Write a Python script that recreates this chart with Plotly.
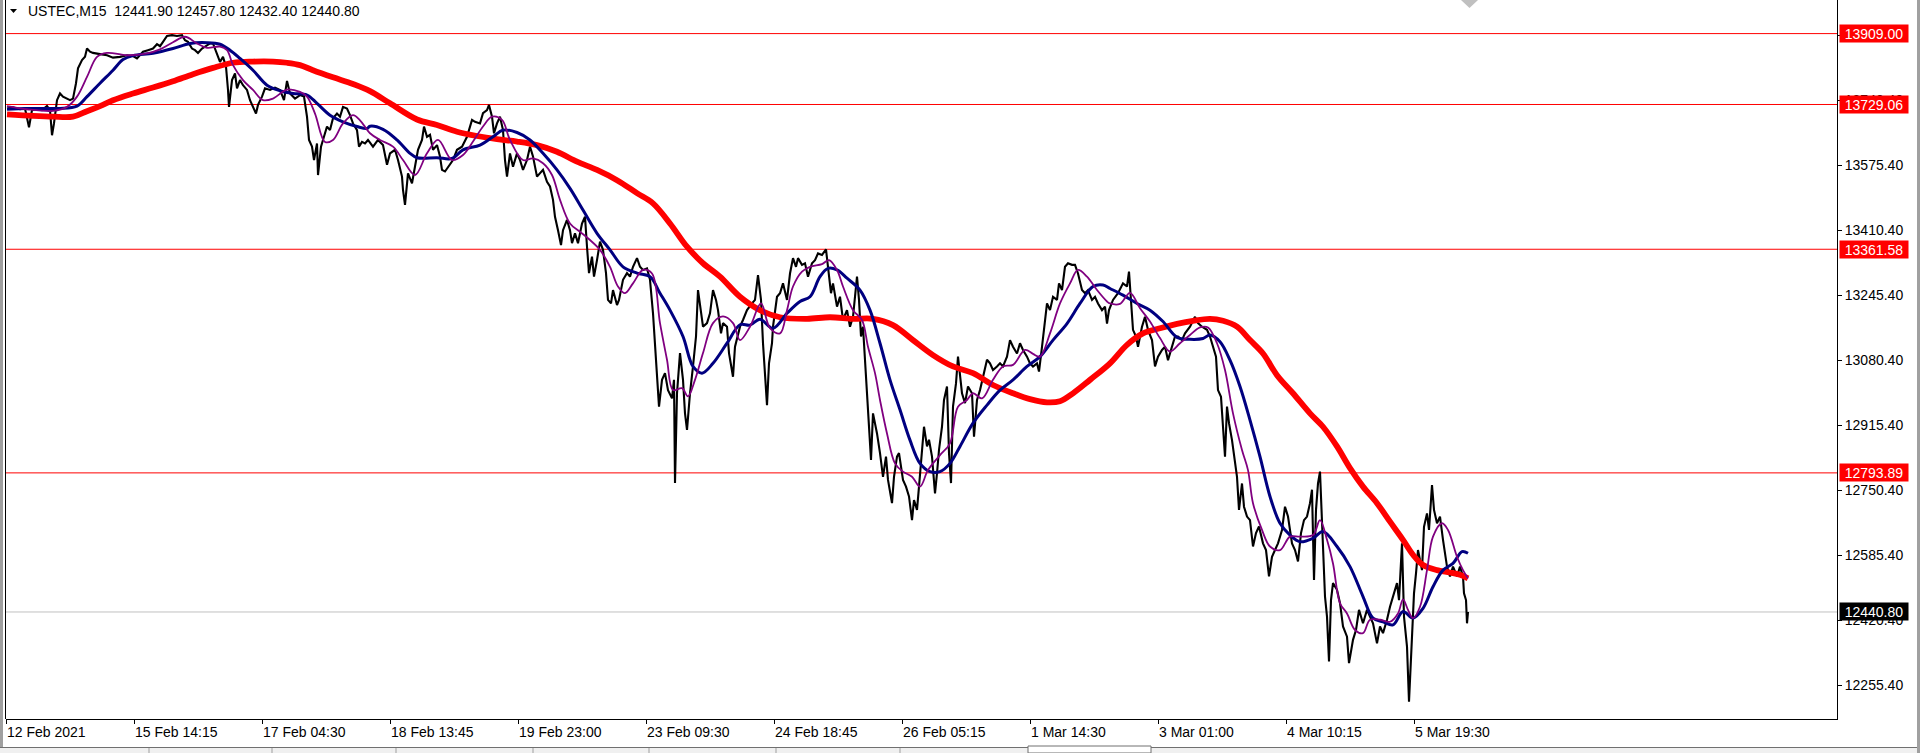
import plotly.graph_objects as go

# ---------------- data ----------------
symbol = "USTEC,M15"
ohlc = [12441.90, 12457.80, 12432.40, 12440.80]

# bar index (15-minute bars, 0 = 12 Feb 2021 tick)
price_x = [1, 7, 14, 19, 23, 26, 31, 36, 41, 44, 46, 48, 51, 54, 57, 61, 64, 67, 70, 72, 76, 79, 81, 84, 87, 94,
           101, 107, 114, 121, 127, 131, 134, 137, 142, 147, 151, 154, 157, 161, 166, 171, 176, 179, 182, 186, 189,
           192, 196, 199, 204, 207, 211, 214, 217, 220, 222, 223, 226, 229, 231, 234, 237, 241, 244, 247, 250, 252,
           256, 259, 264, 269, 274, 278, 281, 284, 289, 294, 298, 301, 303, 306, 308, 311, 312, 315, 317, 321, 324,
           327, 331, 334, 337, 341, 344, 347, 351, 353, 356, 359, 362,
           367, 372, 377, 381, 384, 389, 392, 396, 397, 399, 402, 406, 409, 412, 416, 418, 421, 424, 427, 431, 434,
           436, 439, 444, 447, 451, 456, 461, 466, 469, 474, 477, 481, 483, 486, 488, 491, 494, 497, 499, 501, 504,
           507, 511, 514, 517, 521, 524, 527, 531, 534, 537, 541, 544, 547, 549, 552, 555, 557, 561, 564, 566, 569,
           572, 576, 579, 581, 583, 586, 588, 591, 594, 597, 600, 602, 605, 607, 611, 613, 617, 621, 624, 627, 631,
           634, 637, 641, 644, 647, 649, 651, 653, 656, 659, 662, 666, 668, 669, 671, 674, 677, 679, 681, 684, 687,
           690, 692, 695, 697, 701, 704, 707, 710, 712, 715, 717, 721, 723, 727, 729, 732,
           734, 737, 741, 746, 749, 752, 755, 757, 759, 761, 763, 766, 767, 771, 774, 777, 781, 784, 787, 790, 792,
           796, 799, 802, 806, 809, 812, 816, 820, 822, 825, 827, 831, 834, 837, 841, 844, 847, 851, 853, 855, 857,
           860, 862, 865, 867, 871, 874, 877, 880, 882, 886, 888, 891, 893, 897, 900, 903, 906, 908, 911, 913, 916,
           918, 921, 923, 926, 929, 931, 933, 936, 938, 941, 943, 945, 947, 950, 952, 956, 959, 962, 966, 968, 971,
           974, 977, 981, 984, 987, 991, 994, 997, 1001, 1004, 1007, 1011, 1014, 1017, 1021, 1024, 1027, 1031, 1033,
           1036, 1038, 1041, 1044, 1047, 1051, 1053, 1056, 1059, 1062, 1066, 1069, 1072, 1076, 1079, 1082, 1086,
           1089, 1092, 1096, 1099, 1101, 1103,
           1107, 1112, 1117, 1121, 1123, 1125, 1127, 1130, 1132, 1136, 1139, 1142, 1146, 1149, 1152, 1156, 1159,
           1162, 1166, 1169, 1172, 1176, 1179, 1184, 1189, 1192, 1196, 1201, 1204, 1207, 1210, 1212, 1215, 1217,
           1219, 1221, 1223, 1226, 1228, 1231, 1233, 1236, 1238, 1241, 1244, 1247, 1250, 1253, 1257, 1260, 1263,
           1266, 1269, 1272, 1276, 1279, 1282, 1286, 1289, 1292, 1295, 1298, 1301, 1304, 1306, 1308, 1310, 1312,
           1314, 1316, 1319, 1321, 1323, 1325, 1327, 1331, 1334, 1337, 1341, 1343, 1347, 1350, 1353, 1357, 1361,
           1364, 1367, 1371, 1374, 1377, 1381, 1384, 1387, 1391, 1393, 1396, 1398, 1401, 1403, 1406, 1408, 1410,
           1412, 1416, 1418, 1421, 1423, 1426, 1428, 1431, 1434, 1437, 1441, 1444, 1447, 1451, 1454, 1457, 1458,
           1460, 1461, 1462]
price_y = [13719, 13722, 13717, 13719, 13671, 13715, 13717, 13715, 13725, 13715, 13651, 13681, 13740, 13757, 13749,
           13744, 13740, 13744, 13783, 13821, 13842, 13850, 13871, 13863, 13860, 13857, 13854, 13848, 13850, 13854,
           13852, 13846, 13854, 13863, 13867, 13871, 13882, 13877, 13888, 13903, 13905, 13903, 13905, 13892, 13888,
           13871, 13867, 13860, 13871, 13876, 13884, 13884, 13859, 13837, 13850, 13825, 13766, 13723, 13791, 13808,
           13770, 13791, 13778, 13766, 13740, 13723, 13706, 13728, 13749, 13770, 13766, 13772, 13766, 13740, 13789,
           13757, 13744, 13753, 13749, 13698, 13639, 13622, 13588, 13630, 13550, 13622, 13639, 13673, 13664, 13694,
           13706, 13698, 13723, 13719, 13702, 13681, 13664, 13622, 13634, 13630, 13639,
           13622, 13639, 13626, 13576, 13605, 13614, 13588, 13546, 13512, 13474, 13554, 13529, 13571, 13614, 13639,
           13673, 13647, 13652, 13614, 13626, 13597, 13563, 13559, 13576, 13588, 13614, 13622, 13647, 13690, 13685,
           13681, 13707, 13715, 13728, 13698, 13656, 13681, 13698, 13664, 13588, 13546, 13605, 13571, 13605, 13588,
           13563, 13588, 13622, 13597, 13546, 13554, 13563, 13533, 13521, 13487, 13444, 13410, 13372, 13410, 13436,
           13410, 13377, 13402, 13377, 13427, 13444, 13368, 13301, 13343, 13292, 13334, 13381, 13360, 13301, 13233,
           13224, 13258, 13220, 13233, 13284, 13301, 13292, 13317, 13339, 13317, 13309, 13313, 13284, 13199, 13114,
           13030, 12962, 13030, 13047, 13004, 12983, 13030, 12768, 12996, 13098, 13030, 12945, 12903, 12996, 13064,
           13140, 13258, 13199, 13165, 13174, 13199, 13258, 13233, 13207, 13148, 13174, 13165, 13098, 13038, 13114,
           13148,
           13165, 13182, 13207, 13224, 13233, 13296, 13233, 13123, 13055, 12966, 13072, 13123, 13165, 13241, 13250,
           13275, 13233, 13300, 13339, 13317, 13339, 13322, 13326, 13292, 13326, 13334, 13351, 13347, 13361, 13317,
           13250, 13275, 13216, 13241, 13182, 13207, 13165, 13190, 13292, 13233, 13140, 13165, 13047, 12962, 12827,
           12945, 12894, 12844, 12784, 12835, 12776, 12717, 12784, 12835, 12844, 12776, 12759, 12734, 12674, 12725,
           12700, 12759, 12844, 12911, 12861, 12878, 12835, 12742, 12793, 12852, 12911, 12979, 13013, 12844, 12768,
           12962, 13021, 13089, 12996, 12971, 13013, 12996, 12886, 12979, 13004, 13038, 13081, 13072, 13055, 13064,
           13072, 13064, 13089, 13131, 13114, 13097, 13123, 13106, 13089, 13072, 13064, 13072, 13051, 13114, 13165,
           13224, 13207, 13241, 13233, 13275, 13258, 13317, 13326, 13322, 13322, 13300, 13258, 13250, 13258, 13233,
           13241, 13224, 13207, 13216, 13173, 13207,
           13233, 13250, 13275, 13267, 13305, 13224, 13157, 13140, 13114, 13165, 13190, 13157, 13131, 13064, 13089,
           13106, 13114, 13080, 13114, 13140, 13140, 13131, 13148, 13165, 13190, 13174, 13165, 13157, 13140, 13114,
           13089, 13004, 12987, 12911, 12835, 12962, 12920, 12877, 12844, 12784, 12700, 12767, 12708, 12683, 12674,
           12607, 12641, 12658, 12615, 12598, 12531, 12581, 12598, 12615, 12649, 12708, 12683, 12615, 12598, 12569,
           12641, 12674, 12683, 12717, 12751, 12522, 12700, 12767, 12797, 12683, 12480, 12429, 12315, 12471, 12514,
           12497, 12463, 12404, 12378, 12311, 12370, 12395, 12446, 12412, 12446, 12429, 12412, 12361, 12404, 12387,
           12421, 12454, 12480, 12514, 12471, 12615, 12429, 12353, 12213, 12370, 12488, 12539, 12598, 12547, 12657,
           12691, 12649, 12763, 12700, 12666, 12683, 12624, 12556, 12531, 12556, 12531, 12556, 12531, 12488, 12471,
           12412, 12441]

# slow moving average (red)
red_x = [1, 27, 47, 67, 81, 94, 107, 127, 147, 167, 187, 207, 227, 247, 267, 281, 294, 307, 327, 347, 364,
         384, 411, 431, 451, 471, 491, 511, 531, 551, 571, 591, 611, 631, 647, 664, 681, 697, 714, 734,
         754, 774, 801, 824, 847, 867, 887, 907, 927, 947, 967, 987, 1007, 1024, 1041, 1054, 1067, 1084, 1104,
         1121, 1137, 1154, 1171, 1187, 1204, 1217, 1231, 1244, 1257, 1271, 1287, 1304, 1317, 1331, 1344, 1357,
         1371, 1384, 1397, 1407, 1417, 1431, 1444, 1454, 1462]
red_y = [13704, 13700, 13698, 13698, 13712, 13725, 13740, 13757, 13772, 13788, 13806, 13822, 13835, 13838, 13838,
         13835, 13829, 13816, 13798, 13781, 13763,
         13732, 13691, 13677, 13660, 13649, 13641, 13635, 13626, 13609, 13584, 13563, 13537, 13504, 13478, 13427,
         13368, 13326, 13292, 13241,
         13207, 13189, 13185, 13189, 13185, 13185, 13169, 13131, 13093, 13064, 13047, 13017, 12996, 12981, 12973,
         12976, 12996, 13030, 13072,
         13119, 13148, 13161, 13172, 13180, 13185, 13180, 13165, 13131, 13097, 13042, 12996, 12945, 12911, 12861,
         12806, 12759, 12717, 12670, 12624, 12586, 12560, 12547, 12541, 12535, 12526]

# medium moving average (navy)
navy_x = [1, 21, 41, 54, 71, 81, 94, 107, 117, 127, 147, 167, 184, 201, 214, 224, 234, 247, 261, 274, 287, 301,
          311, 324, 337, 351, 361,
          364, 377, 391, 404, 411, 431, 446, 457, 474, 487, 497, 511, 524, 537, 551, 564, 577, 591, 604, 617, 631,
          644, 654, 664, 677, 687, 696, 707, 721, 734,
          744, 754, 767, 781, 794, 804, 814, 822, 831, 841, 854, 864, 874, 884, 894, 904, 914, 924, 934, 944, 954,
          967, 981, 994, 1007, 1021, 1034, 1047, 1061, 1074, 1087, 1097, 1104,
          1117, 1131, 1144, 1157, 1171, 1184, 1197, 1204, 1214, 1224, 1234, 1244, 1254, 1264, 1274, 1284, 1294,
          1307, 1317, 1331, 1344, 1357, 1367, 1377, 1387, 1397, 1407, 1417, 1427, 1437, 1447, 1456, 1462]
navy_y = [13717, 13719, 13719, 13719, 13725, 13749, 13783, 13816, 13843, 13853, 13859, 13871, 13884, 13886, 13882,
          13867, 13846, 13816, 13778, 13764, 13757, 13753, 13732, 13702, 13685, 13673, 13668,
          13674, 13666, 13639, 13605, 13594, 13594, 13592, 13614, 13626, 13647, 13664, 13658, 13639, 13605, 13563,
          13516, 13461, 13402, 13360, 13317, 13301, 13292, 13250, 13207, 13140, 13064, 13047, 13072, 13123, 13170,
          13169, 13184, 13161, 13199, 13229, 13241, 13292, 13313, 13309, 13288, 13258, 13207, 13123, 13030, 12954,
          12877, 12818, 12797, 12797, 12818, 12861, 12920, 12966, 13004, 13030, 13064, 13089, 13131, 13173, 13224,
          13267, 13271, 13262,
          13245, 13224, 13207, 13178, 13138, 13133, 13135, 13144, 13127, 13080, 13013, 12928, 12835, 12734, 12666,
          12636, 12619, 12628, 12645, 12607, 12556, 12480, 12425, 12416, 12408, 12442, 12425, 12450, 12505, 12547,
          12564, 12594, 12590]

# fast moving average (purple)
purple_x = [1, 21, 47, 61, 71, 81, 91, 101, 121, 141, 154, 167, 179, 191, 201, 214, 221, 227, 237, 247, 257, 267,
            281, 294, 301, 309, 319, 327, 337, 347, 354, 364,
            374, 387, 397, 409, 421, 432, 446, 457, 467, 477, 486, 496, 504, 517, 527, 537, 546, 554, 564, 574, 584,
            594, 604, 612, 619, 627, 637, 646, 654, 661, 667, 676, 682, 689, 697, 707, 717, 727, 734,
            744, 755, 764, 774, 781, 787, 796, 804, 816, 823, 831, 837, 847, 856, 862, 869, 874, 881, 889, 897, 906,
            914, 922, 934, 944, 952, 961, 967, 976, 987, 997, 1007, 1019, 1027, 1034, 1044, 1054, 1064, 1072, 1081,
            1091, 1101,
            1104, 1114, 1124, 1134, 1144, 1154, 1164, 1174, 1184, 1194, 1202, 1211, 1219, 1227, 1236, 1242, 1247,
            1256, 1264, 1274, 1284, 1294, 1307, 1314, 1321, 1327, 1334, 1341, 1349, 1357, 1364, 1374, 1384, 1392,
            1397, 1402, 1407, 1414, 1421, 1427, 1436, 1442, 1451, 1457, 1462]
purple_y = [13725, 13717, 13713, 13723, 13749, 13799, 13850, 13860, 13854, 13859, 13869, 13887, 13901, 13884, 13873,
            13876, 13867, 13829, 13791, 13766, 13740, 13744, 13767, 13761, 13749, 13706, 13634, 13639, 13681, 13702,
            13689, 13656,
            13639, 13622, 13588, 13550, 13605, 13639, 13588, 13601, 13635, 13673, 13698, 13690, 13639, 13588, 13592,
            13580, 13550, 13487, 13427, 13406, 13385, 13360, 13317, 13267, 13250, 13275, 13309, 13300, 13174, 13081,
            13004, 13009, 12988, 13030, 13098, 13174, 13191, 13174, 13131,
            13165, 13224, 13161, 13148, 13207, 13267, 13305, 13317, 13324, 13334, 13309, 13267, 13207, 13182, 13114,
            13047, 12979, 12894, 12818, 12797, 12784, 12759, 12801, 12839, 12869, 12962, 12979, 12996, 12983, 13030,
            13064, 13068, 13106, 13096, 13089, 13148, 13224, 13275, 13309, 13292, 13258, 13229,
            13224, 13223, 13251, 13212, 13178, 13136, 13102, 13123, 13144, 13163, 13163, 13123, 13055, 12945, 12852,
            12801, 12717, 12649, 12607, 12598, 12632, 12632, 12636, 12674, 12624, 12564, 12463, 12437, 12395, 12387,
            12421, 12421, 12416, 12437, 12473, 12446, 12425, 12454, 12547, 12632, 12666, 12649, 12581, 12547, 12526]

# horizontal levels
level_values = [13909.00, 13729.06, 13361.58, 12793.89]
last_price = 12440.80

# price scale ticks
ytick_values = [12255.40, 12420.40, 12585.40, 12750.40, 12915.40, 13080.40,
                13245.40, 13410.40, 13575.40, 13740.40, 13905.40]

# time scale ticks
xtick_bars = [0, 128, 256, 384, 512, 640, 768, 896, 1024, 1152, 1280, 1408]
xtick_labels = ["12 Feb 2021", "15 Feb 14:15", "17 Feb 04:30", "18 Feb 13:45", "19 Feb 23:00",
                "23 Feb 09:30", "24 Feb 18:45", "26 Feb 05:15", "1 Mar 14:30", "3 Mar 01:00",
                "4 Mar 10:15", "5 Mar 19:30"]

y_range = [12169.1, 13994.3]
x_range = [0, 1831]

# ---------------- layout helpers ----------------
W, H = 1920, 753
L, R, T, B = 6, 1837, 0, 719
FONT = "Liberation Sans"


def px(x):
    return (x - L) / (R - L)


def py(y):
    return (B - y) / (B - T)


fig = go.Figure()

fig.add_trace(go.Scatter(x=price_x, y=price_y, mode="lines",
                         line=dict(color="black", width=2.1), hoverinfo="skip"))
fig.add_trace(go.Scatter(x=red_x, y=red_y, mode="lines", line_shape="spline",
                         line=dict(color="#ff0000", width=5.8), hoverinfo="skip"))
fig.add_trace(go.Scatter(x=navy_x, y=navy_y, mode="lines", line_shape="spline",
                         line=dict(color="#000080", width=3), hoverinfo="skip"))
fig.add_trace(go.Scatter(x=purple_x, y=purple_y, mode="lines", line_shape="spline",
                         line=dict(color="#800080", width=1.8), hoverinfo="skip"))

shapes = []
for v in level_values:
    shapes.append(dict(type="line", xref="paper", yref="y", x0=0, x1=1, y0=v, y1=v,
                       line=dict(color="#ff0000", width=1), layer="below"))
shapes.append(dict(type="line", xref="paper", yref="y", x0=0, x1=1, y0=last_price, y1=last_price,
                   line=dict(color="#c0c0c0", width=1), layer="below"))

# window borders / frame
shapes.append(dict(type="line", xref="paper", yref="paper", x0=px(1.5), x1=px(1.5), y0=py(0), y1=py(753),
                   line=dict(color="#a0a0a0", width=3)))
shapes.append(dict(type="line", xref="paper", yref="paper", x0=px(5.5), x1=px(5.5), y0=py(0), y1=py(719),
                   line=dict(color="black", width=1)))
shapes.append(dict(type="line", xref="paper", yref="paper", x0=px(1918.5), x1=px(1918.5), y0=py(0), y1=py(753),
                   line=dict(color="#a0a0a0", width=3)))
# bottom tab bar
shapes.append(dict(type="rect", xref="paper", yref="paper", x0=px(0), x1=px(1917), y0=py(747), y1=py(753),
                   fillcolor="#f0f0f0", line=dict(width=0)))
shapes.append(dict(type="line", xref="paper", yref="paper", x0=px(0), x1=px(1917), y0=py(747.5), y1=py(747.5),
                   line=dict(color="#707070", width=1)))
shapes.append(dict(type="rect", xref="paper", yref="paper", x0=px(1028), x1=px(1151), y0=py(746), y1=py(753),
                   fillcolor="white", line=dict(color="#707070", width=1)))
for sx in [149, 272, 396, 533, 649, 776, 900]:
    shapes.append(dict(type="line", xref="paper", yref="paper", x0=px(sx), x1=px(sx), y0=py(748), y1=py(753),
                       line=dict(color="#a0a0a0", width=1)))
# chart shift marker and title triangle
shapes.append(dict(type="path", xref="paper", yref="paper",
                   path=f"M {px(1461)} {py(0)} L {px(1478)} {py(0)} L {px(1469.5)} {py(8)} Z",
                   fillcolor="#c0c0c0", line=dict(width=0)))
shapes.append(dict(type="path", xref="paper", yref="paper",
                   path=f"M {px(10)} {py(9)} L {px(17)} {py(9)} L {px(13.5)} {py(13)} Z",
                   fillcolor="black", line=dict(width=0)))

annotations = []
annotations.append(dict(xref="paper", yref="paper", x=px(26), y=py(11), xanchor="left", yanchor="middle",
                        text=f"{symbol}  " + " ".join(f"{v:.2f}" for v in ohlc), showarrow=False,
                        font=dict(family=FONT, size=14, color="black")))
for v in level_values:
    annotations.append(dict(xref="paper", yref="y", x=1, y=v, xanchor="left", yanchor="middle", xshift=2,
                            text=f"{v:.2f}", showarrow=False, bgcolor="#ff0000", width=66, height=15,
                            borderpad=1, align="center", font=dict(family=FONT, size=14, color="white")))
annotations.append(dict(xref="paper", yref="y", x=1, y=last_price, xanchor="left", yanchor="middle", xshift=2,
                        text=f"{last_price:.2f}", showarrow=False, bgcolor="black", width=66, height=15,
                        borderpad=1, align="center", font=dict(family=FONT, size=14, color="white")))

fig.update_layout(
    width=W, height=H,
    margin=dict(l=L, r=W - R, t=T, b=H - B),
    paper_bgcolor="white", plot_bgcolor="white",
    showlegend=False,
    shapes=shapes, annotations=annotations,
    xaxis=dict(range=x_range, showgrid=False, zeroline=False, showline=True, linecolor="black", linewidth=1,
               tickmode="array", tickvals=xtick_bars, ticktext=xtick_labels, ticks="outside", ticklen=4,
               tickcolor="black", ticklabelposition="outside right", automargin=False,
               tickfont=dict(family=FONT, size=14, color="black"), fixedrange=True),
    yaxis=dict(range=y_range, side="right", showgrid=False, zeroline=False, showline=True, linecolor="black",
               linewidth=1, tickmode="array", tickvals=ytick_values, automargin=False,
               ticktext=[f"{v:.2f}" for v in ytick_values], ticks="outside", ticklen=4, tickcolor="black",
               tickfont=dict(family=FONT, size=14, color="black"), fixedrange=True),
)

fig.write_html("out.html", config={"displayModeBar": False},
               post_script="document.body.style.margin='0';document.body.style.padding='0';"
                           "document.body.style.overflow='hidden';")
